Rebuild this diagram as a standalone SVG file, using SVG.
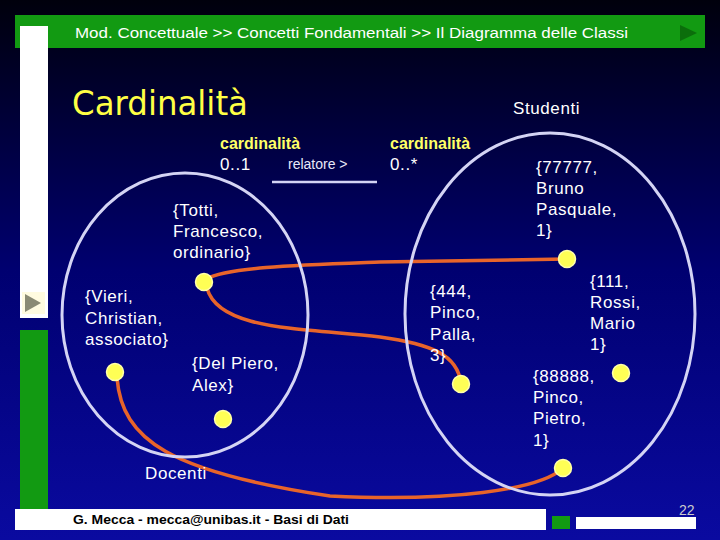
<svg xmlns="http://www.w3.org/2000/svg" width="720" height="540" viewBox="0 0 720 540">
<defs>
<linearGradient id="bg" x1="0" y1="0" x2="0" y2="1">
<stop offset="0" stop-color="#00000c"/>
<stop offset="0.5" stop-color="#000070"/>
<stop offset="1" stop-color="#0a0aa0"/>
</linearGradient>
</defs>
<style>
.t{font-family:"Liberation Sans",Arial,sans-serif;fill:#ffffff;font-size:17px;letter-spacing:0.6px}
.y{font-family:"Liberation Sans",Arial,sans-serif;fill:#ffff66;font-size:16px;font-weight:bold}
.set{fill:none;stroke:#d4d4f4;stroke-width:3}
.dot{fill:#ffff55;stroke:#ffffaa;stroke-width:1.5}
.link{fill:none;stroke:#e8642a;stroke-width:3.5;stroke-linecap:round}
</style>
<rect x="0" y="0" width="720" height="540" fill="url(#bg)"/>
<g id="frame">
<rect x="15" y="15" width="690" height="33" fill="#129a12"/>
<rect x="20" y="26" width="28" height="292" fill="#ffffff"/>
<rect x="20" y="330" width="28" height="187" fill="#129a12"/>
<polygon points="680,25 697,33 680,41" fill="#0b6e0b"/>
<rect x="22" y="292" width="23" height="22" fill="#fffbe0"/>
<polygon points="25,294 41,303 25,312" fill="#8a8a74"/>
<text x="75" y="38" font-family="Liberation Sans,Arial,sans-serif" font-size="14" fill="#ffffff" textLength="553" lengthAdjust="spacingAndGlyphs">Mod. Concettuale &gt;&gt; Concetti Fondamentali &gt;&gt; Il Diagramma delle Classi</text>
<rect x="15" y="509" width="531" height="21" fill="#ffffff"/>
<rect x="552" y="516" width="18" height="13" fill="#129a12"/>
<rect x="576" y="517" width="120" height="12" fill="#ffffff"/>
<text x="73" y="524" font-family="Liberation Sans,Arial,sans-serif" font-size="13" font-weight="bold" fill="#000000" textLength="276" lengthAdjust="spacingAndGlyphs">G. Mecca - mecca@unibas.it - Basi di Dati</text>
<text x="679" y="515" font-family="Liberation Sans,Arial,sans-serif" font-size="14" fill="#cccccc">22</text>
</g>
<text x="72" y="115" font-family="DejaVu Sans,Verdana,sans-serif" font-size="33" fill="#ffff44" textLength="176" lengthAdjust="spacingAndGlyphs">Cardinalità</text>
<g id="relationship">
<text class="y" x="220" y="149">cardinalità</text>
<text class="t" x="220" y="170">0..1</text>
<text x="288" y="169" font-family="Liberation Sans,Arial,sans-serif" font-size="14" fill="#e8e8f8">relatore &gt;</text>
<line x1="272" y1="182" x2="377" y2="182" stroke="#d4d4f4" stroke-width="2.5"/>
<text class="y" x="390" y="149">cardinalità</text>
<text class="t" x="390" y="170">0..*</text>
</g>
<g id="connectors">
<path class="link" d="M206 279 C228 267 300 265 380 262 L567 259"/>
<path class="link" d="M207 288 C218 330 300 328 380 337 C430 344 458 354 461 384"/>
<path class="link" d="M117 378 C122 440 170 472 330 496 C450 502 540 490 563 468"/>
</g>
<g id="docenti">
<ellipse class="set" cx="185" cy="315" rx="123" ry="142"/>
<text class="t" x="145" y="479">Docenti</text>
</g>
<g id="studenti">
<ellipse class="set" cx="550" cy="314" rx="145" ry="181"/>
<text class="t" x="513" y="114">Studenti</text>
</g>
<g id="totti">
<circle class="dot" cx="204" cy="282" r="8.5"/>
<text class="t" x="173" y="216">{Totti,</text>
<text class="t" x="173" y="237">Francesco,</text>
<text class="t" x="173" y="258">ordinario}</text>
</g>
<g id="vieri">
<circle class="dot" cx="115" cy="372" r="8.5"/>
<text class="t" x="85" y="302">{Vieri,</text>
<text class="t" x="85" y="324">Christian,</text>
<text class="t" x="85" y="345">associato}</text>
</g>
<g id="delpiero">
<circle class="dot" cx="223" cy="419" r="8.5"/>
<text class="t" x="192" y="369">{Del Piero,</text>
<text class="t" x="192" y="391">Alex}</text>
</g>
<g id="s77777">
<circle class="dot" cx="567" cy="259" r="8.5"/>
<text class="t" x="536" y="173">{77777,</text>
<text class="t" x="536" y="194">Bruno</text>
<text class="t" x="536" y="215">Pasquale,</text>
<text class="t" x="536" y="236">1}</text>
</g>
<g id="s444">
<circle class="dot" cx="461" cy="384" r="8.5"/>
<text class="t" x="430" y="297">{444,</text>
<text class="t" x="430" y="318">Pinco,</text>
<text class="t" x="430" y="340">Palla,</text>
<text class="t" x="430" y="361">3}</text>
</g>
<g id="s111">
<circle class="dot" cx="621" cy="373" r="8.5"/>
<text class="t" x="590" y="287">{111,</text>
<text class="t" x="590" y="308">Rossi,</text>
<text class="t" x="590" y="329">Mario</text>
<text class="t" x="590" y="350">1}</text>
</g>
<g id="s88888">
<circle class="dot" cx="563" cy="468" r="8.5"/>
<text class="t" x="533" y="382">{88888,</text>
<text class="t" x="533" y="403">Pinco,</text>
<text class="t" x="533" y="424">Pietro,</text>
<text class="t" x="533" y="446">1}</text>
</g>
</svg>
